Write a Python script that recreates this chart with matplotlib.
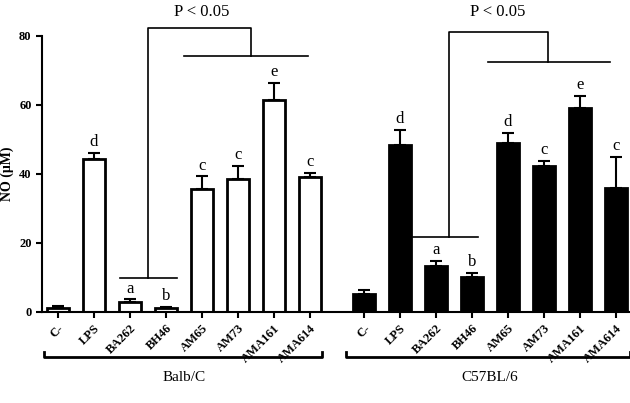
import matplotlib
matplotlib.use("Agg")
import matplotlib.pyplot as plt
import numpy as np

CATEGORIES = ["C-", "LPS", "BA262", "BH46", "AM65", "AM73", "AMA161", "AMA614"]
BALB_VALUES = [1.2, 44.3, 2.8, 1.0, 35.6, 38.5, 61.3, 39.1]
BALB_ERR = [0.5, 1.8, 0.8, 0.5, 3.7, 3.8, 5.0, 1.3]
BALB_LETTERS = ["", "d", "a", "b", "c", "c", "e", "c"]
C57_VALUES = [5.3, 48.5, 13.3, 10.0, 49.0, 42.4, 59.0, 36.0]
C57_ERR = [1.0, 4.2, 1.5, 1.4, 2.8, 1.4, 3.7, 9.0]
C57_LETTERS = ["", "d", "a", "b", "d", "c", "e", "c"]
GROUPS = ["Balb/C", "C57BL/6"]

plt.rcParams["font.family"] = "Liberation Serif"

fig = plt.figure(figsize=(6.3, 4.03), dpi=100)
ax = fig.add_axes([0.0667, 0.226, 0.934, 0.685])

x1 = np.arange(8)
x2 = np.arange(8) + 8.5
for xs, vals, errs, letters, fc in [(x1, BALB_VALUES, BALB_ERR, BALB_LETTERS, "white"),
                                     (x2, C57_VALUES, C57_ERR, C57_LETTERS, "black")]:
    ax.bar(xs, vals, width=0.6, color=fc, edgecolor="black", linewidth=2, zorder=2)
    ax.errorbar(xs, vals, yerr=[np.zeros(8), errs], fmt="none", ecolor="black",
                elinewidth=1.5, capsize=4, capthick=1.5, zorder=3)
    for x, v, e, l in zip(xs, vals, errs, letters):
        if l:
            ax.text(x, v + e + 0.8, l, ha="center", va="bottom", fontsize=12, clip_on=False)

ax.set_xlim(-0.44, 15.9)
ax.set_ylim(0, 80)
ax.set_yticks([0, 20, 40, 60, 80])
ax.set_yticklabels(["0", "20", "40", "60", "80"], fontweight="bold", fontsize=9)
ax.set_xticks(np.concatenate([x1, x2]))
ax.set_xticklabels(CATEGORIES * 2, rotation=45, ha="right", rotation_mode="anchor",
                   fontweight="bold", fontsize=9)
ax.set_ylabel("NO (\u03bcM)", fontweight="bold", fontsize=10)
for s in ["top", "right"]:
    ax.spines[s].set_visible(False)
for s in ["left", "bottom"]:
    ax.spines[s].set_linewidth(1.5)
ax.tick_params(width=1.5, length=4)

kw = dict(color="black", linewidth=1.2, clip_on=False)
# Balb/C significance bracket
ax.plot([1.72, 3.3], [9.9, 9.9], **kw)
ax.plot([2.5, 2.5, 5.36, 5.36], [9.9, 82.3, 82.3, 74.2], **kw)
ax.plot([3.5, 6.94], [74.2, 74.2], **kw)
ax.text(4.0, 84.5, "P < 0.05", ha="center", va="bottom", fontsize=12)
# C57BL/6 significance bracket
ax.plot([9.86, 11.67], [21.7, 21.7], **kw)
ax.plot([10.86, 10.86, 13.6, 13.6], [21.7, 81.0, 81.0, 72.5], **kw)
ax.plot([11.94, 15.33], [72.5, 72.5], **kw)
ax.text(12.2, 84.5, "P < 0.05", ha="center", va="bottom", fontsize=12)

# group brackets under axis
kw2 = dict(color="black", linewidth=2, clip_on=False)
ax.plot([-0.39, -0.39, 7.33, 7.33], [-11.5, -13, -13, -11.5], **kw2)
ax.plot([8.0, 8.0, 15.9, 15.9], [-11.5, -13, -13, -11.5], **kw2)
ax.text(3.5, -17, GROUPS[0], ha="center", va="top", fontsize=11)
ax.text(12.0, -17, GROUPS[1], ha="center", va="top", fontsize=11)

fig.savefig("out.png", dpi=100)
